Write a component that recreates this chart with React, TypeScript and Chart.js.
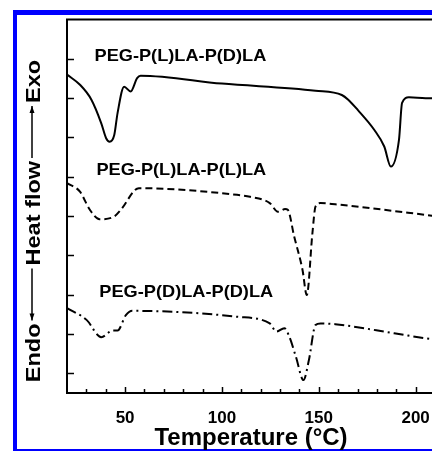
import React, { useEffect, useRef } from 'react';
import { Chart, registerables } from 'chart.js';

Chart.register(...registerables);

// PEG-P(L)LA-P(D)LA (solid)
const tempLD = [20, 26.7, 32.6, 37.7, 40.2, 42, 44.4, 46.1, 49.5, 52.9, 56.2, 58, 100, 148.3, 161.9, 165.2, 170.1, 178.7, 183.8, 187.2, 191.4, 193, 196.5, 205.2, 210];
const flowLD = [8.10, 7.84, 7.46, 6.86, 6.48, 6.39, 6.56, 7.12, 7.79, 7.67, 8.01, 8.07, 7.87, 7.69, 7.58, 7.46, 7.20, 6.69, 6.27, 5.76, 6.44, 7.38, 7.52, 7.50, 7.50];

// PEG-P(L)LA-P(L)LA (dashed)
const tempLL = [20, 26.7, 31.8, 36.8, 44.4, 47.8, 57.1, 107.8, 114.5, 124.7, 128.9, 132.6, 134, 137.3, 141.6, 143.8, 146.7, 148.3, 150.9, 158.5, 205.2, 210];
const flowLL = [5.34, 5.12, 4.66, 4.42, 4.49, 4.66, 5.21, 5.04, 4.99, 4.83, 4.61, 4.68, 4.66, 3.98, 3.13, 2.49, 4.06, 4.74, 4.83, 4.80, 4.53, 4.50];

// PEG-P(D)LA-P(D)LA (dash-dot)
const tempDD = [20, 30.1, 37.7, 43.6, 46.1, 50.4, 53.7, 107.8, 124.7, 128.1, 132.2, 134.8, 138.2, 142.1, 144.9, 148.3, 150.9, 158.5, 188.9, 205.2, 210];
const flowDD = [2.16, 1.86, 1.42, 1.59, 1.59, 1.98, 2.09, 1.94, 1.77, 1.56, 1.65, 1.43, 0.92, 0.33, 0.84, 1.73, 1.77, 1.75, 1.52, 1.39, 1.36];

const seriesNames = ['PEG-P(L)LA-P(D)LA', 'PEG-P(L)LA-P(L)LA', 'PEG-P(D)LA-P(D)LA'];
// label anchors in data units (temperature, heat flow)
const labelTemps = [34.2, 35.2, 36.7];
const labelFlows = [8.45, 5.55, 2.44];

const xMin = 20;
const xMax = 210;
const xStep = 10;
const xLabelEvery = 50;
const yMin = 0;
const yMax = 9.5;
const yTickValues = [0.5, 1.5, 2.5, 3.5, 4.5, 5.5, 6.5, 7.5, 8.5];

const xTitle = 'Temperature (°C)';
const yTitleParts = ['Endo', 'Heat flow', 'Exo'];

const FONT = "'Liberation Sans', Arial, Helvetica, sans-serif";

const toPoints = (xs: number[], ys: number[]) => xs.map((x, i) => ({ x, y: ys[i] }));

const decorPlugin = {
  id: 'decor',
  afterDraw(chart: any) {
    const { ctx, chartArea } = chart;
    const xs = chart.scales.x;
    const ys = chart.scales.y;
    ctx.save();
    ctx.strokeStyle = '#000';
    ctx.fillStyle = '#000';

    // top frame line
    ctx.lineWidth = 2;
    ctx.beginPath();
    ctx.moveTo(chartArea.left - 1, chartArea.top);
    ctx.lineTo(chartArea.right, chartArea.top);
    ctx.stroke();

    // inward x ticks
    ctx.lineWidth = 1.5;
    xs.ticks.forEach((t: any) => {
      if (t.value <= xMin) return;
      const px = Math.round(xs.getPixelForValue(t.value)) + 0.5;
      const len = t.value % xLabelEvery === 0 ? 6 : 4;
      ctx.beginPath();
      ctx.moveTo(px, chartArea.bottom);
      ctx.lineTo(px, chartArea.bottom - len);
      ctx.stroke();
    });

    // inward y ticks
    yTickValues.forEach((v) => {
      const py = Math.round(ys.getPixelForValue(v)) + 0.5;
      ctx.beginPath();
      ctx.moveTo(chartArea.left, py);
      ctx.lineTo(chartArea.left + 7, py);
      ctx.stroke();
    });

    // curve labels
    ctx.font = `bold 17px ${FONT}`;
    ctx.textBaseline = 'alphabetic';
    ctx.textAlign = 'left';
    seriesNames.forEach((name, i) => {
      const px = xs.getPixelForValue(labelTemps[i]);
      const py = ys.getPixelForValue(labelFlows[i]);
      ctx.save();
      ctx.translate(px, py);
      ctx.scale(1.07, 1);
      ctx.fillText(name, 0, 0);
      ctx.restore();
    });

    // y title with arrows
    const fs = 21;
    const stretch = 1.12;
    ctx.font = `bold ${fs}px ${FONT}`;
    const capH = fs * 0.716;
    const gap = 3;
    const arrowLen = 52;
    const w = yTitleParts.map((p) => ctx.measureText(p).width * stretch);
    const total = w[0] + w[1] + w[2] + 2 * (arrowLen + 2 * gap);
    const cx = 32;
    const cy = 221;
    ctx.translate(cx, cy);
    ctx.rotate(-Math.PI / 2);
    let x = -total / 2;
    const base = capH / 2;
    const drawText = (s: string, x0: number) => {
      ctx.save();
      ctx.translate(x0, base);
      ctx.scale(stretch, 1);
      ctx.fillText(s, 0, 0);
      ctx.restore();
    };
    const drawArrow = (x0: number, x1: number, dir: number) => {
      ctx.lineWidth = 1.5;
      ctx.beginPath();
      ctx.moveTo(x0, 0);
      ctx.lineTo(x1, 0);
      ctx.stroke();
      const tip = dir < 0 ? x0 : x1;
      ctx.beginPath();
      ctx.moveTo(tip, 0);
      ctx.lineTo(tip - dir * 7, -2.5);
      ctx.lineTo(tip - dir * 7, 2.5);
      ctx.closePath();
      ctx.fill();
    };
    drawText(yTitleParts[0], x);
    x += w[0] + gap;
    drawArrow(x, x + arrowLen, -1);
    x += arrowLen + gap;
    drawText(yTitleParts[1], x);
    x += w[1] + gap;
    drawArrow(x, x + arrowLen, 1);
    x += arrowLen + gap;
    drawText(yTitleParts[2], x);

    ctx.restore();
  },
};

export default function App() {
  const ref = useRef<HTMLCanvasElement | null>(null);

  useEffect(() => {
    if (!ref.current) return;
    const common = {
      borderColor: '#000',
      backgroundColor: '#000',
      borderWidth: 2,
      pointRadius: 0,
      fill: false,
      cubicInterpolationMode: 'monotone' as const,
    };
    const chart = new Chart(ref.current, {
      type: 'line',
      data: {
        datasets: [
          { ...common, label: seriesNames[0], data: toPoints(tempLD, flowLD) },
          { ...common, label: seriesNames[1], data: toPoints(tempLL, flowLL), borderDash: [7, 4] },
          { ...common, label: seriesNames[2], data: toPoints(tempDD, flowDD), borderDash: [10, 4, 2, 4] },
        ],
      },
      options: {
        animation: false,
        responsive: false,
        devicePixelRatio: 1,
        layout: { padding: { top: 19.5, right: 8.3, left: 0, bottom: 0 } },
        plugins: { legend: { display: false }, tooltip: { enabled: false }, title: { display: false } },
        scales: {
          x: {
            type: 'linear',
            min: xMin,
            max: xMax,
            grid: { display: false, drawTicks: false },
            border: { display: true, color: '#000', width: 2 },
            ticks: {
              stepSize: xStep,
              autoSkip: false,
              maxRotation: 0,
              padding: 15,
              color: '#000',
              font: { family: FONT, size: 17, weight: 'bold' },
              callback: (v: any) => (Number(v) % xLabelEvery === 0 ? String(v) : ''),
            },
            title: {
              display: true,
              text: xTitle,
              color: '#000',
              font: { family: FONT, size: 24, weight: 'bold', lineHeight: 1.05 },
              padding: { top: 0, bottom: 0 },
            },
            afterFit: (s: any) => {
              s.height = 58;
            },
          },
          y: {
            type: 'linear',
            min: yMin,
            max: yMax,
            grid: { display: false, drawTicks: false },
            border: { display: true, color: '#000', width: 2 },
            ticks: { display: false },
            afterFit: (s: any) => {
              s.width = 67;
            },
          },
        },
      },
      plugins: [decorPlugin],
    });
    return () => chart.destroy();
  }, []);

  return (
    <div
      style={{
        position: 'fixed',
        left: 0,
        top: 0,
        width: 432,
        height: 451,
        overflow: 'hidden',
        background: '#fff',
      }}
    >
      <div
        style={{
          position: 'absolute',
          left: 13,
          top: 10,
          width: 600,
          height: 441,
          boxSizing: 'border-box',
          borderLeft: '4px solid #0000ff',
          borderTop: '5px solid #0000ff',
          borderBottom: '2px solid #0000ff',
        }}
      />
      <canvas
        ref={ref}
        width={450}
        height={451}
        style={{ position: 'absolute', left: 0, top: 0, width: 450, height: 451 }}
      />
    </div>
  );
}
